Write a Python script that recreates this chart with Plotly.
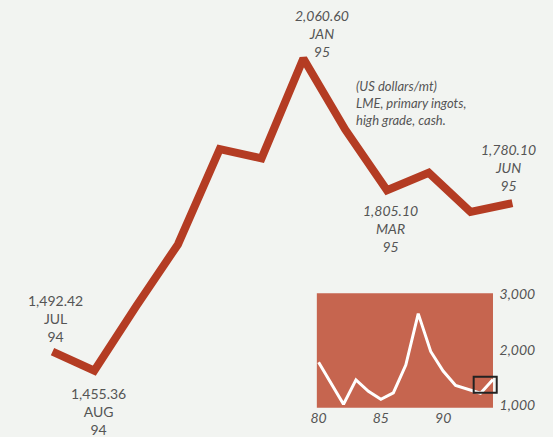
import plotly.graph_objects as go

# Monthly LME aluminium cash price, Jul 1994 - Jun 1995 (US$/tonne)
months = ["JUL", "AUG", "SEP", "OCT", "NOV", "DEC", "JAN", "FEB", "MAR", "APR", "MAY", "JUN"]
years = ["94", "94", "94", "94", "94", "94", "95", "95", "95", "95", "95", "95"]
prices = [1492.42, 1455.36, 1580, 1700, 1885, 1867, 2060.60, 1923, 1805.10, 1839, 1763, 1780.10]

# Annual averages for the small long-run panel
annual_years = list(range(1980, 1995))
annual_prices = [1774, 1390, 1017, 1455, 1250, 1105, 1220, 1722, 2649, 1967, 1614, 1355, 1285, 1215, 1460]
inset_ticks = [1000, 2000, 3000]
inset_xticks = [1980, 1985, 1990]
inset_xlabels = ["80", "85", "90"]

# Which monthly points carry a value label, and where the label block sits (px)
label_points = {0: (3, 33, "normal"), 1: (4, -41, "normal"), 6: (19, 25, "italic"),
                8: (4, -38, "italic"), 11: (-4, 36, "italic")}

BG = "#F2F4F1"
LINE = "#B43C23"
PANEL = "#C6654F"
TEXT = "#555555"
FONT = "Lato"

x_idx = list(range(len(months)))

fig = go.Figure()
fig.add_trace(go.Scatter(x=x_idx, y=prices, mode="lines",
                         line=dict(color=LINE, width=8), hoverinfo="skip",
                         xaxis="x", yaxis="y", showlegend=False))
fig.add_trace(go.Scatter(x=annual_years, y=annual_prices, mode="lines",
                         line=dict(color="white", width=3), hoverinfo="skip",
                         xaxis="x2", yaxis="y2", showlegend=False))

annotations = []
for i, (dx, dy, style) in label_points.items():
    annotations.append(dict(
        x=x_idx[i], y=prices[i], xref="x", yref="y", showarrow=False,
        text=f"{prices[i]:,.2f}<br>{months[i]}<br>{years[i]}",
        xshift=dx, yshift=dy, xanchor="center", yanchor="middle", align="center",
        font=dict(family=FONT, size=14, color=TEXT, style=style)))

annotations.append(dict(
    x=352 / 553, y=1 - 70 / 437, xref="paper", yref="paper", showarrow=False,
    xanchor="left", yanchor="top", align="left",
    text="(US dollars/mt)<br>LME, primary ingots,<br>high grade, cash.",
    font=dict(family=FONT, size=13, color=TEXT, style="italic")))

shapes = [
    # panel background
    dict(type="rect", xref="x2", yref="y2 domain", x0=1979.84, x1=1994.0, y0=0, y1=1,
         fillcolor=PANEL, line=dict(width=0), layer="below"),
    # highlight of the recent period
    dict(type="rect", xref="x2", yref="y2", x0=1992.45, x1=1994.3, y0=1225, y1=1510,
         line=dict(color="#222222", width=2), fillcolor="rgba(0,0,0,0)", layer="above"),
]

fig.update_layout(
    width=553, height=437, margin=dict(l=0, r=0, t=0, b=0, pad=0),
    paper_bgcolor=BG, plot_bgcolor="rgba(0,0,0,0)",
    xaxis=dict(domain=[0, 1], range=[-1.112, 11.971], visible=False),
    yaxis=dict(domain=[0, 1], range=[1336.4, 2158.4], visible=False),
    xaxis2=dict(domain=[314 / 553, 498 / 553], range=[1979.84, 1994.45], anchor="y2",
                showgrid=False, zeroline=False, showline=False,
                tickvals=inset_xticks, ticktext=inset_xlabels, ticks="",
                tickfont=dict(family=FONT, size=14, color=TEXT, style="italic")),
    yaxis2=dict(domain=[1 - 412 / 437, 1 - 294 / 437], range=[953, 3016], anchor="x2",
                side="right", showgrid=False, zeroline=False, showline=False,
                tickvals=inset_ticks, tickformat=",", ticks="",
                tickfont=dict(family=FONT, size=14, color=TEXT, style="italic")),
    annotations=annotations, shapes=shapes,
)

fig.write_html("out.html")
